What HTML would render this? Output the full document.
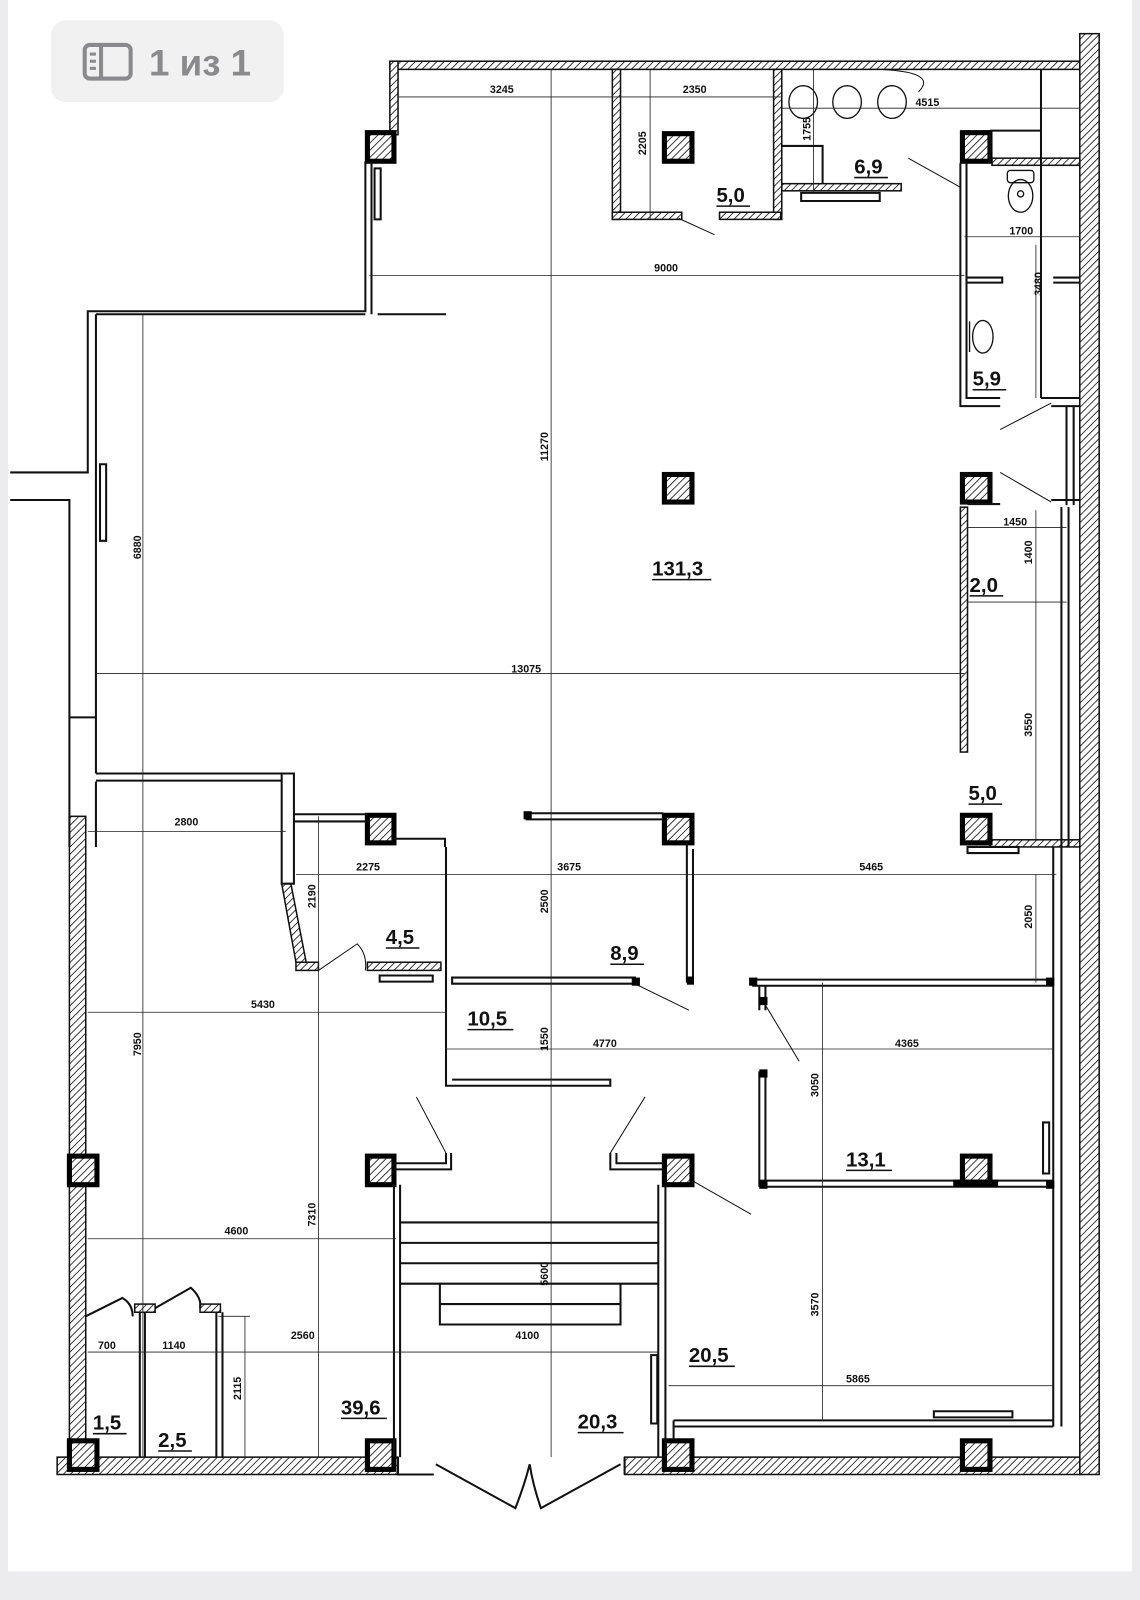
<!DOCTYPE html>
<html><head><meta charset="utf-8"><style>
html,body{margin:0;padding:0;background:#ececee;}
svg{display:block}
text{font-family:"Liberation Sans",sans-serif;font-weight:bold;fill:#111}
.d{font-size:10.5px}
.a{font-size:20px}
</style></head><body>
<svg width="1140" height="1600" viewBox="0 0 1117 1568" preserveAspectRatio="none" xmlns="http://www.w3.org/2000/svg">
<defs>
<pattern id="h" width="5" height="5" patternUnits="userSpaceOnUse" patternTransform="rotate(45)">
<rect width="5" height="5" fill="#fff"/><line x1="0" y1="0" x2="0" y2="5" stroke="#111" stroke-width="1.6"/>
</pattern>
</defs>
<rect x="0" y="0" width="1117" height="1568" fill="#ececee"/>
<rect x="8" y="0" width="1101" height="1540" fill="#fff"/>
<!-- badge -->
<rect x="50" y="20" width="228" height="80" rx="14" fill="#f1f1f2"/>
<rect x="83" y="44" width="45" height="33" rx="5" fill="none" stroke="#8a8a8e" stroke-width="4"/>
<line x1="99" y1="44" x2="99" y2="77" stroke="#8a8a8e" stroke-width="4"/>
<line x1="88" y1="53" x2="94" y2="53" stroke="#8a8a8e" stroke-width="3"/>
<line x1="88" y1="60" x2="94" y2="60" stroke="#8a8a8e" stroke-width="3"/>
<line x1="88" y1="67" x2="94" y2="67" stroke="#8a8a8e" stroke-width="3"/>
<text x="146" y="74" style="font-size:36px;fill:#8a8a8e">1 из 1</text>

<g stroke="#111" fill="url(#h)" stroke-width="1.5">
<!-- outer hatched walls -->
<rect x="382" y="60" width="676" height="8"/>
<rect x="382" y="60" width="8" height="72"/>
<rect x="1058" y="33" width="19" height="1412"/>
<rect x="56" y="1428" width="334" height="17"/>
<rect x="612" y="1428" width="446" height="17"/>
<rect x="68" y="800" width="16" height="630"/>
<!-- room 5,0 walls -->
<rect x="600" y="68" width="8" height="147"/>
<rect x="758" y="68" width="8" height="147"/>
<rect x="600" y="208" width="68" height="7"/>
<rect x="705" y="208" width="60" height="7"/>
<rect x="766" y="180" width="117" height="7"/>
<rect x="972" y="155" width="86" height="7"/>
<rect x="941" y="497" width="7" height="240"/>
<rect x="970" y="823" width="88" height="7"/>
<rect x="360" y="943" width="72" height="8"/>
<path d="M276,866 L285,866 L300,943 L290,943 Z"/>
<rect x="290" y="943" width="22" height="8"/>
<rect x="132" y="1278" width="20" height="8"/>
<rect x="196" y="1278" width="20" height="8"/>
</g>

<!-- columns -->
<g fill="url(#h)" stroke="#000" stroke-width="5">
<rect x="360" y="130" width="26" height="28"/>
<rect x="651" y="131" width="27" height="27"/>
<rect x="943" y="130" width="27" height="28"/>
<rect x="651" y="465" width="27" height="27"/>
<rect x="943" y="465" width="27" height="27"/>
<rect x="360" y="799" width="26" height="27"/>
<rect x="651" y="799" width="27" height="27"/>
<rect x="943" y="799" width="27" height="27"/>
<rect x="68" y="1133" width="27" height="28"/>
<rect x="360" y="1133" width="26" height="28"/>
<rect x="651" y="1133" width="27" height="28"/>
<rect x="943" y="1133" width="27" height="28"/>
<rect x="68" y="1412" width="27" height="28"/>
<rect x="360" y="1412" width="26" height="28"/>
<rect x="651" y="1412" width="27" height="28"/>
<rect x="943" y="1412" width="27" height="28"/>
</g>

<!-- thick lines walls -->
<g stroke="#111" fill="none" stroke-width="2">
<path d="M358,158 V305 H86 V463 H10"/>
<path d="M364,158 V308"/>
<path d="M370,308 H437"/>
<path d="M94,308 V758 M94,308 H358"/>
<path d="M10,490 H68 V830 M68,703 H94 M94,766 V830"/>
<path d="M94,758 H288 V866 H276 V758"/>
<path d="M94,765 H276"/>
<path d="M288,798 H360 M288,805 H360 M386,822 H437 M436,822 V830"/>
<path d="M437,830 V1064 H598 V1058 H443"/>
<path d="M443,958 V964 H622 V958 Z"/>
<path d="M515,797 H650 M515,803 H650"/>
<path d="M673,826 V963 M679,832 V963"/>
<path d="M737,960 H1032 M737,966 H1032"/>
<path d="M744,966 V990 M750,966 V990 M744,1050 V1163 M750,1050 V1163"/>
<path d="M744,1157 H1032 M744,1163 H1032"/>
<path d="M1032,830 V1398 M1040,830 V1398"/>
<path d="M660,1392 H1032 M660,1398 H1032 M660,1392 V1410"/>
<path d="M386,1161 V1428 M392,1161 V1428 M645,1161 V1428 M652,1161 V1428"/>
<path d="M386,1140 H437 V1130 M386,1146 H442 V1130"/>
<path d="M598,1130 V1146 H650 M604,1130 V1140 H650"/>
<path d="M392,1198 H645 M392,1218 H645 M392,1238 H645 M392,1258 H645"/>
<path d="M431,1258 V1298 H608 V1258 M431,1278 H608"/>
<path d="M84,1290 L120,1272 Q130,1278 130,1290 M152,1282 L187,1262 Q198,1272 196,1282"/>
<path d="M137,1286 V1428 M142,1286 V1428 M212,1286 V1428 M218,1286 V1428"/>
<path d="M390,1428 V1445 H425 M612,1428 V1445"/>
<path d="M427,1435 L505,1478 Q514,1455 519,1435 M608,1435 L530,1478 Q522,1455 519,1435"/>
<path d="M941,160 V398 H980 M947,160 V390 H980"/>
<path d="M1020,68 V390 M1020,390 H1058 M1045,398 V495 M1052,398 V495 M1030,398 H1058 M1030,490 H1058"/>
<path d="M1040,497 V830 M1047,497 V830"/>
<path d="M970,160 V130 M970,128 H1020"/>
<path d="M766,143 H806 V180"/>
<path d="M785,189 H862 V197 H785 Z"/>
<path d="M948,272 H982 V277 H948 M1032,272 H1058 M1032,277 H1058"/>
<path d="M948,494 H980"/>
<path d="M372,956 H424 V962 H372 Z"/>
<path d="M948,830 H998 V836 H948 Z"/>
<path d="M1022,1100 H1028 V1150 H1022 Z"/>
<path d="M915,1383 H992 V1389 H915 Z"/>
<path d="M638,1328 H644 V1395 H638 Z"/>
<path d="M98,455 H104 V530 H98 Z"/>
<path d="M367,165 H373 V215 H367 Z"/>
</g>
<!-- thin diagonals (door swings) -->
<g stroke="#111" fill="none" stroke-width="1">
<path d="M665,214 L700,230 M890,155 L940,183 M980,421 L1030,395 M980,463 L1030,492 M622,964 L675,990 M750,985 L783,1040 M680,1158 L736,1190 M437,1130 L408,1075 M598,1130 L632,1075"/>
<path d="M312,951 L350,925 Q360,935 358,951"/>
<path d="M860,68 Q920,70 900,90"/>
</g>
<g fill="#000">
<rect x="513" y="795" width="8" height="8"/><rect x="619" y="958" width="8" height="8"/>
<rect x="734" y="958" width="8" height="8"/><rect x="1025" y="958" width="8" height="8"/>
<rect x="744" y="977" width="8" height="8"/><rect x="744" y="1048" width="8" height="8"/>
<rect x="744" y="1157" width="8" height="8"/><rect x="1025" y="1157" width="8" height="8"/>
<rect x="673" y="957" width="7" height="8"/><rect x="934" y="1156" width="44" height="7"/>
</g>
<!-- fixtures -->
<g stroke="#111" fill="none" stroke-width="1.3">
<ellipse cx="787" cy="100" rx="14" ry="16"/><ellipse cx="830" cy="100" rx="14" ry="16"/><ellipse cx="874" cy="100" rx="14" ry="16"/>
<rect x="987" y="167" width="26" height="12" rx="3"/><ellipse cx="1000" cy="192" rx="12" ry="16"/><circle cx="1000" cy="190" r="3"/>
<ellipse cx="963" cy="330" rx="10" ry="16"/><path d="M950,315 V345"/>
</g>
<!-- dimension lines -->
<g stroke="#222" stroke-width="0.8" fill="none">
<path d="M390,95 H765 M765,106 H1058 M362,270 H945 M95,660 H945 M540,68 V1428 M140,308 V1428 M312,800 V1428"/>
<path d="M86,815 H280 M290,857 H1035 M86,992 H437 M437,1028 H1032 M86,1214 H388 M86,1325 H645 M655,1358 H1032"/>
<path d="M806,963 V1392 M1015,240 V390 M1015,500 V823 M1015,857 V963 M945,232 H1058 M947,517 H1045 M947,590 H1045"/>
<path d="M637,68 V215 M797,68 V188 M240,1290 V1428 M214,1290 H245"/>
</g>
<!-- dim texts -->
<g class="d">
<text x="480" y="91" class="d">3245</text><text x="669" y="91" class="d">2350</text><text x="897" y="104" class="d">4515</text>
<text x="641" y="266" class="d">9000</text><text x="989" y="230" class="d">1700</text><text x="501" y="659" class="d">13075</text>
<text x="983" y="515" class="d">1450</text><text x="171" y="809" class="d">2800</text><text x="349" y="853" class="d">2275</text>
<text x="546" y="853" class="d">3675</text><text x="842" y="853" class="d">5465</text><text x="246" y="988" class="d">5430</text>
<text x="581" y="1026" class="d">4770</text><text x="877" y="1026" class="d">4365</text><text x="220" y="1210" class="d">4600</text>
<text x="96" y="1322" class="d">700</text><text x="159" y="1322" class="d">1140</text><text x="285" y="1312" class="d">2560</text>
<text x="505" y="1312" class="d">4100</text><text x="829" y="1355" class="d">5865</text>
<text transform="translate(794,138) rotate(-90)" class="d">1755</text>
<text transform="translate(633,152) rotate(-90)" class="d">2205</text>
<text transform="translate(1021,290) rotate(-90)" class="d">3480</text>
<text transform="translate(537,452) rotate(-90)" class="d">11270</text>
<text transform="translate(138,548) rotate(-90)" class="d">6880</text>
<text transform="translate(1011,553) rotate(-90)" class="d">1400</text>
<text transform="translate(1011,722) rotate(-90)" class="d">3550</text>
<text transform="translate(537,895) rotate(-90)" class="d">2500</text>
<text transform="translate(309,890) rotate(-90)" class="d">2190</text>
<text transform="translate(1011,910) rotate(-90)" class="d">2050</text>
<text transform="translate(537,1030) rotate(-90)" class="d">1550</text>
<text transform="translate(802,1075) rotate(-90)" class="d">3050</text>
<text transform="translate(138,1035) rotate(-90)" class="d">7950</text>
<text transform="translate(309,1202) rotate(-90)" class="d">7310</text>
<text transform="translate(537,1260) rotate(-90)" class="d">5600</text>
<text transform="translate(802,1290) rotate(-90)" class="d">3570</text>
<text transform="translate(236,1372) rotate(-90)" class="d">2115</text>
</g>
<!-- area labels -->
<g class="a">
<text x="702" y="198" class="a">5,0</text><text x="837" y="170" class="a">6,9</text><text x="953" y="378" class="a">5,9</text>
<text x="639" y="564" class="a">131,3</text><text x="950" y="580" class="a">2,0</text><text x="949" y="784" class="a">5,0</text>
<text x="378" y="925" class="a">4,5</text><text x="598" y="941" class="a">8,9</text><text x="458" y="1005" class="a">10,5</text>
<text x="829" y="1143" class="a">13,1</text><text x="675" y="1335" class="a">20,5</text><text x="334" y="1386" class="a">39,6</text>
<text x="566" y="1400" class="a">20,3</text><text x="91" y="1401" class="a">1,5</text><text x="155" y="1418" class="a">2,5</text>
</g>
<g stroke="#111" stroke-width="1.5">
<path d="M702,202 H735 M837,174 H870 M953,382 H986 M639,568 H697 M950,584 H983 M949,788 H982 M378,929 H411 M598,945 H631 M458,1009 H503 M829,1147 H874 M675,1339 H720 M334,1390 H379 M566,1404 H611 M91,1405 H124 M155,1422 H188"/>
</g>
</svg>
</body></html>
